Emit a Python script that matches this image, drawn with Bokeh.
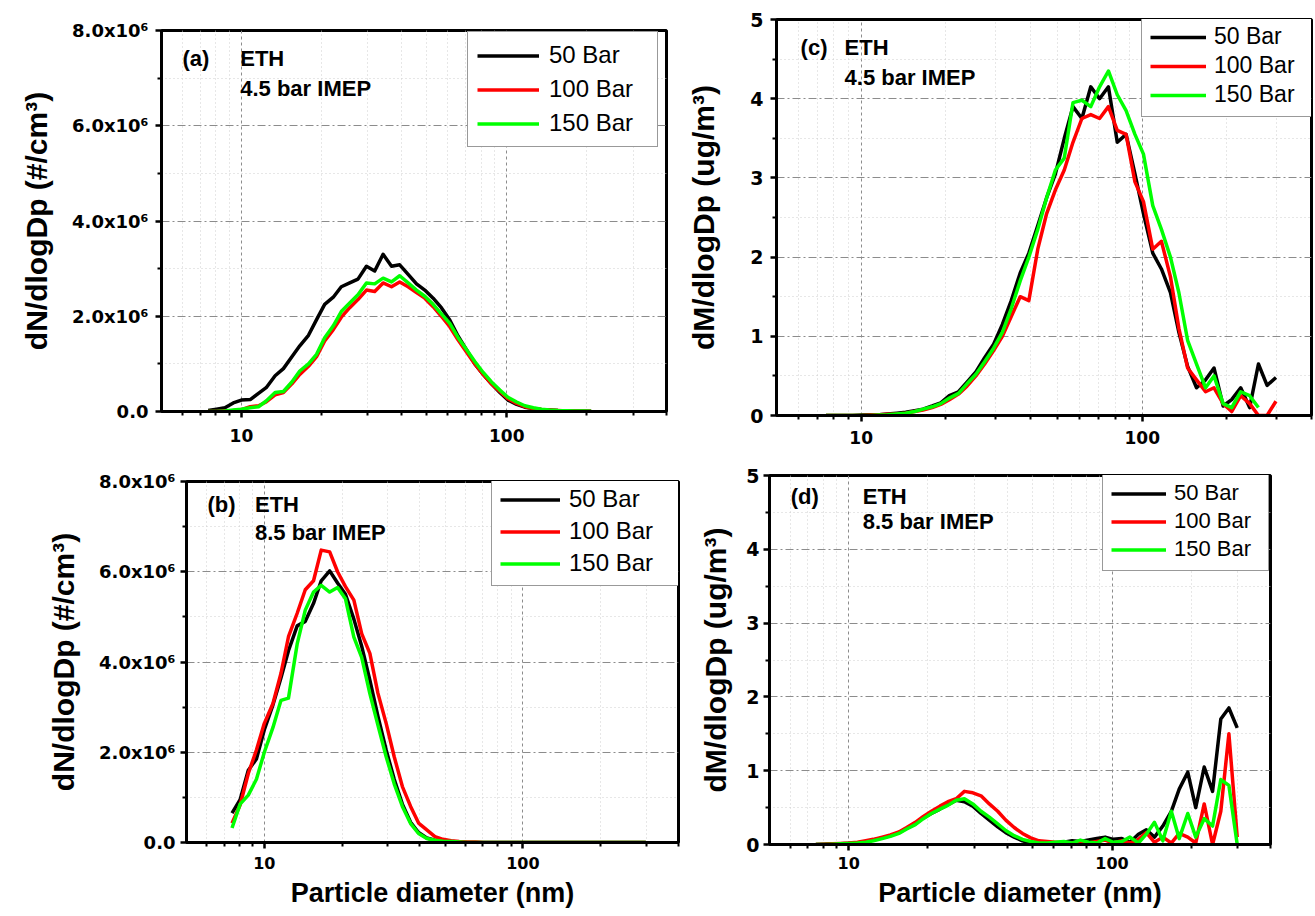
from bokeh.plotting import figure
from bokeh.models import Range1d, FixedTicker, Legend, LegendItem, Label, PrintfTickFormatter
from bokeh.layouts import column, row
from bokeh.embed import file_html
from bokeh.resources import INLINE

# ---------------- data ----------------
diameter_nm = [7.50, 8.06, 8.67, 9.32, 10.0, 10.8, 11.6, 12.4, 13.4, 14.4,
               15.5, 16.6, 17.9, 19.2, 20.6, 22.2, 23.8, 25.6, 27.5, 29.6,
               31.8, 34.2, 36.8, 39.5, 42.5, 45.7, 49.1, 52.8, 56.7, 61.0,
               65.6, 70.5, 75.8, 81.5, 87.6, 94.2, 101, 109, 117, 126,
               135, 145, 156, 168, 180, 194, 208, 224, 241, 259,
               278, 299]

series_names = ["50 Bar", "100 Bar", "150 Bar"]
series_colors = ["#000000", "#ff0000", "#00ff00"]

# (a) number distribution, 4.5 bar IMEP (x10^6 #/cm3)
a_50 = [0.02, 0.05, 0.08, 0.18, 0.24, 0.25, 0.38, 0.50, 0.75, 0.90,
        1.15, 1.38, 1.60, 1.93, 2.25, 2.40, 2.62, 2.70, 2.78, 3.05,
        2.95, 3.30, 3.05, 3.08, 2.88, 2.68, 2.55, 2.38, 2.18, 1.92,
        1.58, 1.30, 1.00, 0.78, 0.58, 0.40, 0.24, 0.15, 0.09, 0.06,
        0.04, 0.03, 0.02, 0.015, 0.01, 0.01, 0.005]
a_100 = [0.0, 0.0, 0.01, 0.02, 0.04, 0.10, 0.12, 0.20, 0.35, 0.40,
         0.58, 0.78, 0.95, 1.15, 1.48, 1.72, 1.98, 2.18, 2.35, 2.55,
         2.52, 2.70, 2.62, 2.72, 2.62, 2.50, 2.38, 2.20, 2.00, 1.78,
         1.50, 1.25, 1.00, 0.78, 0.58, 0.42, 0.27, 0.17, 0.10, 0.06,
         0.04, 0.03, 0.02, 0.01, 0.01, 0.005, 0.005]
a_150 = [0.0, 0.0, 0.01, 0.03, 0.05, 0.08, 0.10, 0.22, 0.40, 0.42,
         0.62, 0.85, 1.00, 1.20, 1.55, 1.80, 2.10, 2.28, 2.45, 2.70,
         2.68, 2.80, 2.72, 2.85, 2.70, 2.55, 2.42, 2.25, 2.05, 1.85,
         1.55, 1.30, 1.05, 0.82, 0.62, 0.45, 0.30, 0.20, 0.12, 0.08,
         0.05, 0.03, 0.02, 0.015, 0.01, 0.01, 0.005]

# (b) number distribution, 8.5 bar IMEP (x10^6 #/cm3)
b_50 = [0.65, 0.95, 1.60, 1.85, 2.50, 3.05, 3.65, 4.25, 4.80, 4.90,
        5.30, 5.80, 6.02, 5.75, 5.50, 4.95, 4.35, 3.60, 2.80, 2.05,
        1.40, 0.85, 0.45, 0.22, 0.10, 0.05, 0.03, 0.02, 0.01, 0.0,
        0.0, 0.0, 0.0, 0.0, 0.0, 0.0, 0.0, 0.0, 0.0, 0.0,
        0.0, 0.0, 0.0, 0.0, 0.0, 0.0, 0.0, 0.0, 0.0, 0.0,
        0.0, 0.0]
b_100 = [0.43, 0.83, 1.53, 2.05, 2.64, 3.08, 3.75, 4.56, 5.08, 5.60,
         5.80, 6.48, 6.44, 6.00, 5.67, 5.37, 4.63, 4.19, 3.31, 2.64,
         1.90, 1.24, 0.80, 0.43, 0.28, 0.13, 0.07, 0.04, 0.02, 0.01,
         0.01, 0.0, 0.0, 0.0, 0.0, 0.0, 0.0, 0.0, 0.0, 0.0,
         0.0, 0.0, 0.0, 0.0, 0.0, 0.0, 0.0, 0.0, 0.0, 0.0,
         0.0, 0.0]
b_150 = [0.32, 0.85, 1.05, 1.40, 2.00, 2.55, 3.15, 3.20, 4.40, 5.15,
         5.55, 5.70, 5.55, 5.65, 5.40, 4.55, 4.10, 3.30, 2.60, 1.90,
         1.30, 0.80, 0.42, 0.20, 0.09, 0.05, 0.03, 0.02, 0.01, 0.0,
         0.0, 0.0, 0.0, 0.0, 0.0, 0.0, 0.0, 0.0, 0.0, 0.0,
         0.0, 0.0, 0.0, 0.0, 0.0, 0.0, 0.0, 0.0, 0.0, 0.0,
         0.0, 0.0]

# (c) mass distribution, 4.5 bar IMEP (ug/m3)
c_50 = [0.0, 0.0, 0.0, 0.0, 0.005, 0.01, 0.01, 0.02, 0.03, 0.04,
        0.06, 0.08, 0.12, 0.16, 0.25, 0.30, 0.42, 0.55, 0.73, 0.90,
        1.15, 1.45, 1.80, 2.05, 2.40, 2.75, 3.05, 3.50, 3.90, 3.75,
        4.15, 4.00, 4.15, 3.45, 3.55, 3.05, 2.55, 2.05, 1.85, 1.55,
        1.05, 0.62, 0.35, 0.45, 0.60, 0.12, 0.20, 0.35, 0.10, 0.65,
        0.38, 0.48]
c_100 = [0.0, 0.0, 0.0, 0.0, 0.0, 0.005, 0.01, 0.015, 0.02, 0.03,
         0.05, 0.07, 0.10, 0.14, 0.20, 0.27, 0.37, 0.50, 0.65, 0.82,
         1.00, 1.25, 1.50, 1.45, 2.10, 2.55, 2.85, 3.10, 3.45, 3.75,
         3.80, 3.75, 3.90, 3.60, 3.55, 2.95, 2.70, 2.10, 2.20, 1.75,
         1.10, 0.60, 0.45, 0.30, 0.35, 0.15, 0.05, 0.25, 0.15, 0.0,
         0.0, 0.18]
c_150 = [0.0, 0.0, 0.0, 0.0, 0.0, 0.0, 0.005, 0.01, 0.02, 0.03,
         0.05, 0.08, 0.11, 0.15, 0.22, 0.28, 0.40, 0.52, 0.68, 0.85,
         1.05, 1.35, 1.70, 2.00, 2.35, 2.75, 3.10, 3.25, 3.95, 3.98,
         3.90, 4.15, 4.35, 4.05, 3.85, 3.55, 3.30, 2.65, 2.35, 2.00,
         1.55, 0.95, 0.65, 0.35, 0.50, 0.15, 0.10, 0.30, 0.25, 0.10]

# (d) mass distribution, 8.5 bar IMEP (ug/m3)
d_50 = [0.0, 0.005, 0.01, 0.01, 0.015, 0.02, 0.04, 0.06, 0.09, 0.12,
        0.16, 0.22, 0.28, 0.36, 0.42, 0.48, 0.54, 0.60, 0.58, 0.52,
        0.42, 0.33, 0.24, 0.16, 0.10, 0.05, 0.02, 0.02, 0.01, 0.02,
        0.03, 0.05, 0.04, 0.06, 0.08, 0.10, 0.07, 0.08, 0.03, 0.14,
        0.20, 0.10, 0.25, 0.45, 0.75, 0.98, 0.50, 1.05, 0.72, 1.70,
        1.85, 1.58]
d_100 = [0.0, 0.005, 0.01, 0.015, 0.02, 0.03, 0.05, 0.07, 0.10, 0.13,
         0.17, 0.23, 0.30, 0.38, 0.45, 0.52, 0.58, 0.62, 0.72, 0.70,
         0.66, 0.55, 0.45, 0.33, 0.23, 0.15, 0.09, 0.05, 0.04, 0.03,
         0.03, 0.02, 0.03, 0.02, 0.04, 0.06, 0.02, 0.05, 0.02, 0.07,
         0.16, 0.03, 0.10, 0.02, 0.15, 0.10, 0.02, 0.55, 0.0, 0.45,
         1.50, 0.10]
d_150 = [0.0, 0.0, 0.005, 0.01, 0.015, 0.02, 0.03, 0.05, 0.08, 0.11,
         0.15, 0.21, 0.27, 0.35, 0.42, 0.48, 0.53, 0.60, 0.62, 0.55,
         0.45, 0.37, 0.28, 0.19, 0.12, 0.07, 0.04, 0.02, 0.02, 0.03,
         0.04, 0.02, 0.06, 0.03, 0.02, 0.08, 0.03, 0.04, 0.10, 0.02,
         0.14, 0.30, 0.05, 0.45, 0.08, 0.42, 0.10, 0.35, 0.25, 0.88,
         0.80, 0.0]

number_ticks = [0, 2, 4, 6, 8]
number_minor = [1, 3, 5, 7]
number_tick_labels = ["0.0", "2.0x10\u2076", "4.0x10\u2076", "6.0x10\u2076", "8.0x10\u2076"]
mass_ticks = [0, 1, 2, 3, 4, 5]
mass_minor = [0.5, 1.5, 2.5, 3.5, 4.5]
x_major = [10, 100]
x_minor = [6, 7, 8, 9, 20, 30, 40, 50, 60, 70, 80, 90, 200, 300, 400]

panel_tags = ["(a)", "(b)", "(c)", "(d)"]
fuel = "ETH"
loads = ["4.5 bar IMEP", "8.5 bar IMEP"]
y_titles = ["dN/dlogDp (#/cm\u00b3)", "dM/dlogDp (ug/m\u00b3)"]
x_title = "Particle diameter (nm)"

LAB = "Liberation Sans"
NUM = "DejaVu Sans"


def make_panel(series, tag, load, ytitle, yr, yt, ym, ylab, xtitle, g):
    p = figure(output_backend="svg", toolbar_location=None, x_axis_type="log",
               x_range=Range1d(5, 400), y_range=Range1d(*yr),
               frame_width=g["fw"], frame_height=g["fh"],
               min_border_left=g["bl"], min_border_right=g["br"],
               min_border_top=g["bt"], min_border_bottom=g["bb"],
               background_fill_color="white", border_fill_color="white",
               outline_line_color="black", outline_line_width=3)
    if "frame_align" in p.properties():
        p.frame_align = False

    rends = []
    for vals, col in zip(series, series_colors):
        r = p.line(x=diameter_nm[:len(vals)], y=vals, line_color=col,
                   line_width=3.5, line_join="round")
        rends.append(r)

    xt = FixedTicker(ticks=x_major, minor_ticks=x_minor)
    ytk = FixedTicker(ticks=yt, minor_ticks=ym)
    xa = p.xaxis[0]
    ya = p.yaxis[0]
    xa.ticker = xt
    ya.ticker = ytk
    p.xgrid[0].ticker = xt
    p.ygrid[0].ticker = ytk
    xa.formatter = PrintfTickFormatter(format="%d")
    if ylab is not None:
        ya.major_label_overrides = {t: s for t, s in zip(yt, ylab)}

    for ax in (xa, ya):
        ax.axis_line_width = 3
        ax.axis_line_color = "black"
        ax.major_tick_line_width = 2.5
        ax.major_tick_out = 6
        ax.major_tick_in = 0
        ax.minor_tick_line_width = 2
        ax.minor_tick_out = 4
        ax.minor_tick_in = 0
        ax.major_label_text_font = NUM
        ax.major_label_text_font_style = "bold"
        ax.major_label_text_color = "black"

    ya.major_label_text_font_size = g["ytf"]
    ya.major_label_standoff = g["yts"]
    xa.major_label_text_font_size = g["xtf"]
    xa.major_label_standoff = g["xts"]

    ya.axis_label = ytitle
    ya.axis_label_text_font = LAB
    ya.axis_label_text_font_style = "bold"
    ya.axis_label_text_font_size = "30px"
    ya.axis_label_standoff = g["yls"]
    ya.axis_label_text_color = "black"

    if xtitle:
        xa.axis_label = xtitle
        xa.axis_label_text_font = LAB
        xa.axis_label_text_font_style = "bold"
        xa.axis_label_text_font_size = "27px"
        xa.axis_label_standoff = g["xls"]
        xa.axis_label_text_color = "black"

    p.xgrid.grid_line_color = "#8c8c8c"
    p.xgrid.grid_line_dash = "3 3"
    p.xgrid.grid_line_width = 1
    p.xgrid.minor_grid_line_color = "#cfcfcf"
    p.xgrid.minor_grid_line_dash = "1 3"
    p.ygrid.grid_line_color = "#8c8c8c"
    p.ygrid.grid_line_dash = "8 3 2 3"
    p.ygrid.grid_line_width = 1
    p.ygrid.minor_grid_line_color = "#cfcfcf"
    p.ygrid.minor_grid_line_dash = "1 3"

    for txt, x, y in ((tag, g["tag_x"], g["y1"]), (fuel, g["eth_x"], g["y1"]),
                      (load, g["eth_x"], g["y2"])):
        p.add_layout(Label(x=x, y=y, text=txt, text_font=LAB, text_font_style="bold",
                           text_font_size="22px", text_baseline="middle",
                           text_align="left", text_color="black"))

    items = [LegendItem(label=n, renderers=[r]) for n, r in zip(series_names, rends)]
    leg = Legend(items=items, location=g["leg"], margin=0,
                 padding=g["lp"], spacing=g["lsp"],
                 glyph_width=g["lgw"], glyph_height=g["lh"], label_height=g["lh"],
                 label_width=g["lw"], label_standoff=g["lst"],
                 label_text_font=LAB, label_text_font_size=g["lf"],
                 label_text_color="black",
                 border_line_color="#333333", border_line_width=1.5,
                 background_fill_color="white", background_fill_alpha=1.0)
    p.add_layout(leg)
    return p


ga = dict(fw=505, fh=381, bl=161, br=14, bt=30, bb=41,
          ytf="18px", yts=7, yls=16, xtf="17px", xts=11, xls=0,
          tag_x=6.0, eth_x=9.9, y1=7.41, y2=6.78,
          leg=(306, 264), lp=9, lsp=6, lgw=62, lh=27, lw=99, lst=10, lf="24px")
gc = dict(fw=535, fh=396, bl=96, br=3, bt=19, bb=37,
          ytf="19px", yts=7, yls=27, xtf="17px", xts=9, xls=0,
          tag_x=6.09, eth_x=8.73, y1=4.65, y2=4.27,
          leg=(365, 298), lp=8, lsp=2, lgw=56, lh=26, lw=89, lst=8, lf="23px")
gb = dict(fw=492, fh=361, bl=186, br=12, bt=29, bb=69,
          ytf="18px", yts=5, yls=16, xtf="16px", xts=8, xls=6,
          tag_x=6.03, eth_x=9.2, y1=7.49, y2=6.87,
          leg=(305, 256), lp=8, lsp=4, lgw=60, lh=27, lw=101, lst=9, lf="24px")
gd = dict(fw=501, fh=369, bl=79, br=10, bt=23, bb=67,
          ytf="19px", yts=4, yls=11, xtf="16px", xts=6, xls=6,
          tag_x=6.02, eth_x=11.3, y1=4.72, y2=4.38,
          leg=(333, 273), lp=8, lsp=2, lgw=55, lh=25, lw=86, lst=8, lf="22px")

pa = make_panel([a_50, a_100, a_150], panel_tags[0], loads[0], y_titles[0], (0, 8),
                number_ticks, number_minor, number_tick_labels, None, ga)
pc = make_panel([c_50, c_100, c_150], panel_tags[2], loads[0], y_titles[1], (0, 5),
                mass_ticks, mass_minor, None, None, gc)
pb = make_panel([b_50, b_100, b_150], panel_tags[1], loads[1], y_titles[0], (0, 8),
                number_ticks, number_minor, number_tick_labels, x_title, gb)
pd_ = make_panel([d_50, d_100, d_150], panel_tags[3], loads[1], y_titles[1], (0, 5),
                 mass_ticks, mass_minor, None, x_title, gd)

layout = column(row(pa, pc), row(pb, pd_))
open("out.html", "w").write(file_html(layout, INLINE))
